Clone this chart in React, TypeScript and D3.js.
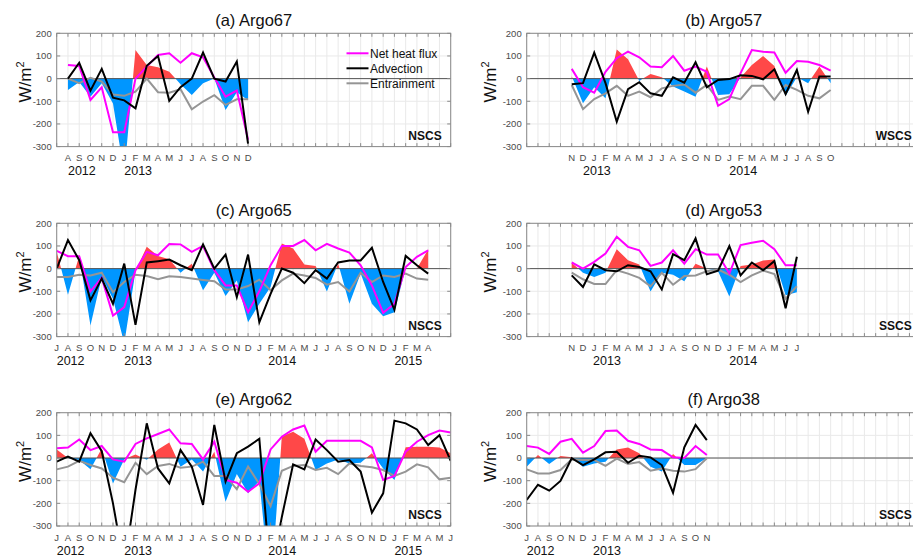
import React from 'react';
import * as d3 from 'd3';

// Month axis: Jul 2012 .. Jun 2015 (index 0..35)
const monthLetters = ['J','A','S','O','N','D','J','F','M','A','M','J','J','A','S','O','N','D','J','F','M','A','M','J','J','A','S','O','N','D','J','F','M','A','M','J'];
const yTickValues = [200, 100, 0, -100, -200, -300];
const legendLabels = ['Net heat flux', 'Advection', 'Entrainment'];

// (a) Argo67, NSCS — starts Aug 2012
const aStart = 1;
const aNet = [60, 56, -94, -38, -237, -237, 0, 53, 104, 112, 70, 112, 94, 5, -80, -53, -270];
const aAdv = [0, 70, -53, 43, -84, -96, -131, 57, 100, -98, -38, 0, 115, 0, -13, 75, -288];
const aEnt = [0, -20, 4, -13, -70, -76, -57, 0, -60, -62, -47, -135, -101, -73, -116, -91, -91];
const aFill = [-50, -15, -80, -20, -110, -420, 126, 60, 50, 30, -25, -72, -20, 0, -138, -60, -95];
const aYears: [string, number][] = [['2012', 1], ['2013', 6]];

// (b) Argo57, WSCS — starts Nov 2012
const bStart = 4;
const bNet = [43, -38, -62, 30, 90, 119, 94, 53, 50, 100, 35, 53, 30, -120, -90, 24, 126, 119, 115, 26, 78, 74, 60, 35];
const bAdv = [-25, -20, 115, -20, -190, -47, -16, -65, -76, 6, -18, 72, -38, -6, -2, 15, 12, -3, 41, -68, 38, -146, 9, 9];
const bEnt = [-28, -135, -90, -65, -32, -76, -57, -82, -43, -32, -26, -62, -28, -94, -79, -91, -32, -32, -94, -28, -50, -76, -87, -50];
const bFill = [10, -109, -38, -87, 129, 85, -10, 20, 6, -35, -57, -80, 53, -72, -69, 5, 60, 100, 56, -76, 6, -20, 53, -20];
const bYears: [string, number][] = [['2013', 5], ['2014', 18]];

// (c) Argo65, NSCS — starts Jul 2012
const cStart = 0;
const cNet = [78, 55, 55, -100, -41, -207, -170, -7, 74, 59, 109, 107, 74, 100, -7, -74, -74, -192, -100, 15, 100, 100, 126, 81, 109, 89, 71, 15, -74, -195, -155, 7, 52, 81];
const cAdv = [0, 126, 37, -140, -44, -155, 22, -248, 27, 33, 40, 15, -7, 107, 0, 62, -126, 62, -237, -111, 0, -18, -64, -7, -44, 27, 36, 36, 92, -59, -182, 56, 15, -22];
const cEnt = [-37, -37, -27, -30, -18, -104, -59, -27, -33, -47, -34, -37, -44, -50, -56, -92, -92, -77, -49, -95, -52, -22, -30, -41, -71, -59, -101, -18, -59, -30, -37, -22, -44, -49];
const cFill = [74, -115, 56, -251, -37, -133, -330, -10, 96, 56, 41, -18, 22, -96, -18, -121, -52, -237, -155, -81, 111, 89, 18, 12, -101, 22, -155, -22, -155, -210, -192, 3, 0, 85];
const cYears: [string, number][] = [['2012', 0], ['2013', 6], ['2014', 18.8], ['2015', 30]];

// (d) Argo53, SSCS — starts Nov 2012
const dStart = 4;
const dNet = [27, 0, 30, 67, 141, 96, 81, 12, 27, 81, 22, 86, 62, 62, -22, 104, 114, 123, 86, 15, 15];
const dAdv = [-30, -81, 19, -7, -12, 15, 7, -12, -92, 64, 37, 133, -25, -9, 99, -30, 27, -7, 33, -175, 52];
const dEnt = [-18, -47, -68, -68, -7, -22, -41, -78, -18, -71, -33, -30, -12, -4, -27, -59, -30, -9, -24, -133, -78];
const dFill = [25, -18, -37, -18, 86, 37, 18, -101, -18, -27, -56, 22, 0, -12, -123, 12, 18, 36, 40, -118, -104];
const dYears: [string, number][] = [['2013', 5.9], ['2014', 18]];

// (e) Argo62, NSCS — starts Jul 2012
const eStart = 0;
const eNet = [43, 46, 82, 35, 53, -6, -16, 62, 87, 106, 126, 65, 62, -6, 72, -97, -109, -149, -112, 38, 94, 126, 143, 28, 76, 76, 76, 76, 47, -97, -79, 28, 72, 101, 121, 113];
const eAdv = [-16, 6, -16, 109, 30, -200, -480, -140, 153, -46, -112, 35, -38, -207, 146, -104, 21, 50, 85, -520, -260, -28, -50, 82, 35, -16, -9, -60, -241, -156, 165, 153, 126, 57, 101, -12];
const eEnt = [-50, -38, -12, -31, -46, -87, -107, -21, -71, -35, -26, -43, -38, -16, -79, -79, -138, -38, -115, -212, -56, -35, -31, -53, -43, -71, -24, -35, -41, -53, -79, -60, -28, -41, -94, -87];
const eFill = [38, 0, -9, -50, 42, -112, -5, 15, -8, 38, 68, -38, -6, -60, 28, -193, -71, -156, -100, -600, 95, 116, 85, -53, -24, -6, -24, -21, 21, -46, -97, 47, 50, 50, 46, 21];
const eYears: [string, number][] = [['2012', 0], ['2013', 6], ['2014', 18.8], ['2015', 30]];

// (f) Argo38, SSCS — starts Jul 2012
const fStart = 0;
const fNet = [53, 46, 18, 72, 85, 24, 53, 119, 121, 76, 62, 38, 35, 3, 0, 53, 13];
const fAdv = [-185, -118, -144, -101, -1, -31, -6, 25, 28, -21, 10, 3, -31, -153, 47, 146, 79];
const fEnt = [-50, -68, -68, -53, -6, -9, -9, -35, -3, -26, -18, -56, -46, -56, -60, -49, -1];
const fFill = [-38, 13, -26, 9, 3, -38, -24, -16, 38, 46, 21, -38, -60, 18, -31, -31, 0];
const fYears: [string, number][] = [['2012', 0], ['2013', 5.9]];

const panels = [
  { title: '(a) Argo67', region: 'NSCS', start: aStart, net: aNet, adv: aAdv, ent: aEnt, fill: aFill, years: aYears, col: 0, row: 0, legend: true },
  { title: '(b) Argo57', region: 'WSCS', start: bStart, net: bNet, adv: bAdv, ent: bEnt, fill: bFill, years: bYears, col: 1, row: 0, legend: false },
  { title: '(c) Argo65', region: 'NSCS', start: cStart, net: cNet, adv: cAdv, ent: cEnt, fill: cFill, years: cYears, col: 0, row: 1, legend: false },
  { title: '(d) Argo53', region: 'SSCS', start: dStart, net: dNet, adv: dAdv, ent: dEnt, fill: dFill, years: dYears, col: 1, row: 1, legend: false },
  { title: '(e) Argo62', region: 'NSCS', start: eStart, net: eNet, adv: eAdv, ent: eEnt, fill: eFill, years: eYears, col: 0, row: 2, legend: false },
  { title: '(f) Argo38', region: 'SSCS', start: fStart, net: fNet, adv: fAdv, ent: fEnt, fill: fFill, years: fYears, col: 1, row: 2, legend: false },
];

const W = 913, H = 556;
const colX = [56.7, 526.7];
const rowY = [33.3, 223.3, 412.7];
const plotW = 394;
const plotH = 113.3;
const FONT = '"Liberation Sans", Arial, Helvetica, sans-serif';

const C_NET = '#ff00ff';
const C_ADV = '#000000';
const C_ENT = '#959595';
const C_POS = '#ff4848';
const C_NEG = '#0096ff';

type Pt = { m: number; v: number };

function withCrossings(pts: Pt[]): Pt[] {
  const out: Pt[] = [];
  for (let i = 0; i < pts.length; i++) {
    const p = pts[i];
    if (i > 0) {
      const q = pts[i - 1];
      if ((q.v > 0 && p.v < 0) || (q.v < 0 && p.v > 0)) {
        const t = q.v / (q.v - p.v);
        out.push({ m: q.m + t * (p.m - q.m), v: 0 });
      }
    }
    out.push(p);
  }
  return out;
}

function Panel({ p, idx }: { p: typeof panels[number]; idx: number }) {
  const x0 = colX[p.col];
  const y0 = rowY[p.row];
  const x = d3.scaleLinear().domain([0, 35]).range([x0, x0 + plotW]);
  const y = d3.scaleLinear().domain([-300, 200]).range([y0 + plotH, y0]);
  const toPts = (arr: number[]): Pt[] => arr.map((v, i) => ({ m: p.start + i, v }));
  const line = d3.line<Pt>().x(d => x(d.m)).y(d => y(d.v));
  const fillPts = withCrossings(toPts(p.fill));
  const posArea = d3.area<Pt>().x(d => x(d.m)).y0(y(0)).y1(d => y(Math.max(d.v, 0)));
  const negArea = d3.area<Pt>().x(d => x(d.m)).y0(y(0)).y1(d => y(Math.min(d.v, 0)));
  const clipId = `clip-${idx}`;
  const months = d3.range(0, 36);
  const nData = p.net.length;
  const labelMonths = d3.range(p.start, p.start + nData);
  const tickLen = 3.5;
  const axisColor = '#8a8a8a';
  const gridColor = '#e9e9e9';
  const ylabX = p.col === 0 ? 31 : 496;

  return (
    <g>
      <defs>
        <clipPath id={clipId}>
          <rect x={x0} y={y0} width={plotW} height={plotH} />
        </clipPath>
      </defs>
      <rect x={x0} y={y0} width={plotW} height={plotH} fill="#fff" />
      {/* grid */}
      {months.map(m => (
        <line key={'gv' + m} x1={x(m)} x2={x(m)} y1={y0} y2={y0 + plotH} stroke={gridColor} strokeWidth={1} />
      ))}
      {yTickValues.map(v => (
        <line key={'gh' + v} x1={x0} x2={x0 + plotW} y1={y(v)} y2={y(v)} stroke={gridColor} strokeWidth={1} />
      ))}
      <g clipPath={`url(#${clipId})`}>
        <path d={posArea(fillPts) || ''} fill={C_POS} stroke="none" />
        <path d={negArea(fillPts) || ''} fill={C_NEG} stroke="none" />
        <line x1={x0} x2={x0 + plotW} y1={y(0)} y2={y(0)} stroke="#555" strokeWidth={1} />
        <path d={line(toPts(p.ent)) || ''} fill="none" stroke={C_ENT} strokeWidth={2} />
        <path d={line(toPts(p.net)) || ''} fill="none" stroke={C_NET} strokeWidth={2} />
        <path d={line(toPts(p.adv)) || ''} fill="none" stroke={C_ADV} strokeWidth={2} />
      </g>
      {/* box */}
      <rect x={x0} y={y0} width={plotW} height={plotH} fill="none" stroke={axisColor} strokeWidth={1} />
      {/* ticks */}
      {months.map(m => (
        <g key={'tk' + m}>
          <line x1={x(m)} x2={x(m)} y1={y0 + plotH} y2={y0 + plotH - tickLen} stroke={axisColor} />
          <line x1={x(m)} x2={x(m)} y1={y0} y2={y0 + tickLen} stroke={axisColor} />
        </g>
      ))}
      {yTickValues.map(v => (
        <g key={'ty' + v}>
          <line x1={x0} x2={x0 + tickLen} y1={y(v)} y2={y(v)} stroke={axisColor} />
          <line x1={x0 + plotW} x2={x0 + plotW - tickLen} y1={y(v)} y2={y(v)} stroke={axisColor} />
          <text x={x0 - 5} y={y(v)} dy="0.35em" textAnchor="end" fontSize={9.5} fill="#4a4a4a" fontFamily={FONT}>{v}</text>
        </g>
      ))}
      {/* month labels */}
      {labelMonths.map(m => (
        <text key={'ml' + m} x={x(m)} y={y0 + plotH + 14.5} textAnchor="middle" fontSize={9.5} fill="#4a4a4a" fontFamily={FONT}>{monthLetters[m]}</text>
      ))}
      {p.years.map(([yr, m]) => (
        <text key={'yr' + yr} x={x(m)} y={y0 + plotH + 28.5} textAnchor="start" fontSize={12.5} fill="#111" fontFamily={FONT}>{yr}</text>
      ))}
      {/* title */}
      <text x={x0 + plotW / 2} y={y0 - 7.5} textAnchor="middle" fontSize={16.5} fill="#111" fontFamily={FONT}>{p.title}</text>
      {/* y label */}
      <text transform={`translate(${ylabX},${y0 + plotH / 2 - 8}) rotate(-90)`} textAnchor="middle" fontSize={17} fill="#111" fontFamily={FONT}>
        W/m<tspan dy="-7" fontSize={11}>2</tspan>
      </text>
      {/* region */}
      <text x={x0 + plotW - 9} y={y0 + plotH - 7} textAnchor="end" fontSize={12} fontWeight="bold" fill="#111" fontFamily={FONT}>{p.region}</text>
      {p.legend && (
        <g>
          {[C_NET, C_ADV, C_ENT].map((c, i) => (
            <g key={'lg' + i}>
              <line x1={346.5} x2={368.5} y1={53.3 + i * 15} y2={53.3 + i * 15} stroke={c} strokeWidth={2} />
              <text x={370} y={53.3 + i * 15} dy="0.36em" fontSize={12} fill="#111" fontFamily={FONT}>{legendLabels[i]}</text>
            </g>
          ))}
        </g>
      )}
    </g>
  );
}

export default function App() {
  return (
    <svg width={W} height={H} style={{ position: 'absolute', left: 0, top: 0, background: '#fff' }}>
      <rect x={0} y={0} width={W} height={H} fill="#fff" />
      {panels.map((p, i) => <Panel key={i} p={p} idx={i} />)}
    </svg>
  );
}
